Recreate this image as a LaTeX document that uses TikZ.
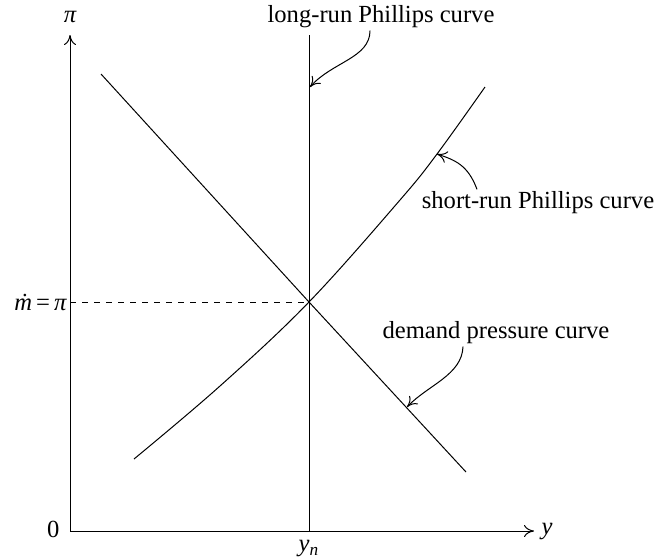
\documentclass[tikz,border=0pt]{standalone}
\usepackage{fontspec}
\setmainfont{Liberation Serif}
\usetikzlibrary{positioning,arrows.meta}
\tikzset{
  curvelabel/.style={inner sep=1pt, font=\fontsize{12.3}{15}\selectfont},
  axislabel/.style={inner sep=1.5pt, font=\fontsize{12.3}{15}\selectfont\itshape},
  pointer/.style={-{To[length=5pt,width=6pt]}},
}
\begin{document}
\begin{tikzpicture}[x=0.5pt,y=-0.5pt,line width=0.5pt,>={To[length=5pt,width=6pt]}]
\useasboundingbox (0,0) rectangle (658,559);
% axes
\coordinate (O) at (70,531);
\coordinate (ytop) at (70,35);
\coordinate (xend) at (534,531);
\draw[->] (O) -- (ytop);
\draw[->] (O) -- (xend);
\node[axislabel] (pilab) at (70,17) {π};
\node[axislabel, right=2pt of xend] (ylab) {y};
\node[axislabel, left=3.5pt of O, yshift=1pt, font=\fontsize{12.3}{15}\selectfont] (zero) {0};
% long-run Phillips curve
\coordinate (yn) at (309,531);
\coordinate (lrtop) at (309,35);
\coordinate (E) at (309,302);
\draw (yn) -- (lrtop);
\node[axislabel, below=3pt of yn] (ynlab) {y\textsubscript{n}};
% equilibrium
\coordinate (mE) at (70,302);
\draw[dashed] (mE) -- (E);
\node[axislabel, left=0pt of mE] (mlab) {\.m\,{\upshape =}\,π};
% demand pressure curve
\coordinate (D1) at (101,74);
\coordinate (D2) at (466,472);
\draw (D1) -- (E) -- (D2);
% short-run Phillips curve
\draw plot[smooth, tension=0.6] coordinates {(134,459) (220,386) (309,302) (400,200) (437,154) (485,87)};
% labels
\node[curvelabel] (lrlab) at (381,17) {long-run Phillips curve};
\node[curvelabel] (srlab) at (538,203) {short-run Phillips curve};
\node[curvelabel] (dplab) at (496,333) {demand pressure curve};
\coordinate (lrtip) at (310,87);
\coordinate (srtip) at (437,154);
\coordinate (dptip) at (407,407);
\draw[pointer] ([xshift=-5.5pt]lrlab.south) .. controls (370,58) and (332,62) .. (lrtip);
\draw[pointer] ([xshift=-30.5pt]srlab.north) .. controls (468,165) and (455,160) .. (srtip);
\draw[pointer] ([xshift=-16.5pt]dplab.south) .. controls (462,375) and (428,385) .. (dptip);
\end{tikzpicture}
\end{document}
